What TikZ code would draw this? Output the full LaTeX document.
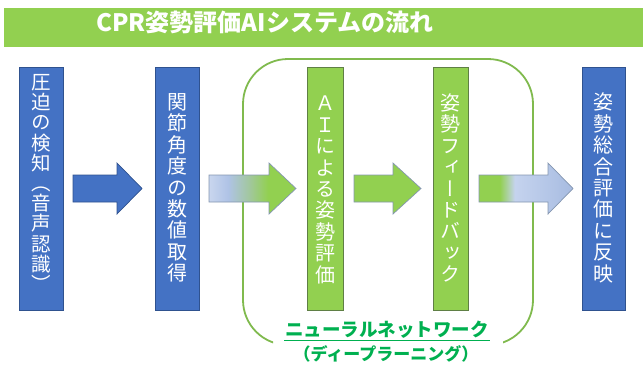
\documentclass[tikz,border=0pt]{standalone}
\usepackage{fontspec}
\newfontfamily\jp{Noto Sans CJK JP}
\newfontfamily\jpv[RawFeature=+vert]{Noto Sans CJK JP}
\definecolor{barg}{HTML}{92D050}
\definecolor{boxb}{HTML}{4472C4}
\definecolor{boxbd}{HTML}{2F528F}
\definecolor{boxg}{HTML}{92D050}
\definecolor{boxgd}{HTML}{5F7F45}
\definecolor{framecol}{HTML}{80BA4E}
\definecolor{nncol}{HTML}{00B050}
\definecolor{lbA}{HTML}{C9D6EE}
\definecolor{lbB}{HTML}{AFC3E6}
\definecolor{midA}{HTML}{A2C79F}
\definecolor{lbC}{HTML}{C5D3EE}
\definecolor{lbD}{HTML}{B4C6E7}
\definecolor{lbE}{HTML}{A7BBE0}
\definecolor{arrbd}{HTML}{8496B0}
\pgfdeclarehorizontalshading{shadeA}{100bp}{color(0bp)=(lbA); color(25bp)=(lbA); color(36bp)=(lbB); color(48bp)=(midA); color(59bp)=(boxg); color(100bp)=(boxg)}
\pgfdeclarehorizontalshading{shadeB}{100bp}{color(0bp)=(boxg); color(25bp)=(boxg); color(36bp)=(boxg); color(44bp)=(lbC); color(62bp)=(lbD); color(75bp)=(lbE); color(100bp)=(lbE)}
\tikzset{
  bluebox/.style={draw=boxbd, fill=boxb, line width=0.8pt, minimum width=44pt, minimum height=243pt, inner sep=0pt},
  greenbox/.style={draw=boxgd, fill=boxg, line width=0.8pt, minimum width=36pt, minimum height=243pt, inner sep=0pt},
  vtext/.style={text=white, align=center, inner sep=0pt, font=\jpv\fontsize{20}{21.4}\selectfont},
  barrow/.style={draw=boxbd, fill=boxb, line width=0.7pt},
  garrow/.style={draw=arrbd, fill=boxg, line width=0.7pt},
  sarrowA/.style={draw=arrbd, shading=shadeA, line width=0.7pt},
  sarrowB/.style={draw=arrbd, shading=shadeB, line width=0.7pt},
  nnframe/.style={draw=framecol, line width=1.8pt, rounded corners=45pt},
  nntext/.style={text=nncol, inner xsep=1pt, inner ysep=1.5pt},
}
\newcommand\blockarrow[4]{%
  \path[#4] (#1,175) -- (#2,175) -- (#2,163) -- (#3,188.5) -- (#2,214) -- (#2,202) -- (#1,202) -- cycle;}
\begin{document}
\begin{tikzpicture}[x=1pt,y=-1pt]
\useasboundingbox (0,0) rectangle (643,365);
% title bar
\node[fill=barg, minimum width=639pt, minimum height=39pt, inner sep=0pt, anchor=north west] (bar) at (4,8) {};
\node[text=white, inner sep=0pt, font=\jp\bfseries\fontsize{24}{28}\selectfont] (title) at (265,22.5) {CPR姿勢評価AIシステムの流れ};
% neural network frame (bottom edge hidden by label)
\begin{scope}[even odd rule]
  \clip (0,0) rectangle (643,365) (273,318) rectangle (503,365);
  \draw[nnframe] (243,59) rectangle (533,345);
\end{scope}
% boxes
\node[bluebox] (b1) at (41,188.5) {};
\node[vtext, font=\jpv\fontsize{19.5}{20.2}\selectfont] (b1t) at (41,183) {圧\\迫\\の\\検\\知\\（\\音\\声\\認\\識\\）};
\node[bluebox] (b2) at (177,188.5) {};
\node[vtext] (b2t) at (177,188) {関\\節\\角\\度\\の\\数\\値\\取\\得};
\node[greenbox] (g1) at (325,188.5) {};
\node[vtext] (g1t) at (325,190) {Ａ\\Ｉ\\に\\よ\\る\\姿\\勢\\評\\価};
\node[greenbox, minimum width=35pt] (g2) at (450.5,188.5) {};
\node[vtext] (g2t) at (450.5,188) {姿\\勢\\フ\\ィ\\ー\\ド\\バ\\ッ\\ク};
\node[bluebox, minimum width=43pt] (b3) at (603.5,188.5) {};
\node[vtext] (b3t) at (603.5,188) {姿\\勢\\総\\合\\評\\価\\に\\反\\映};
% block arrows
\blockarrow{73}{117}{142}{barrow}
\blockarrow{209}{269}{296}{sarrowA}
\blockarrow{354}{393}{421}{garrow}
\blockarrow{479}{548}{573}{sarrowB}
% label
\node[nntext, font=\jp\bfseries\fontsize{18.5}{22}\selectfont] (nn1) at (387,330) {ニューラルネットワーク};
\draw[nncol, line width=1.2pt] (nn1.south west) -- (nn1.south east);
\node[nntext, font=\jp\bfseries\fontsize{17}{20}\selectfont] (nn2) at (386,354) {（ディープラーニング）};
\end{tikzpicture}
\end{document}
